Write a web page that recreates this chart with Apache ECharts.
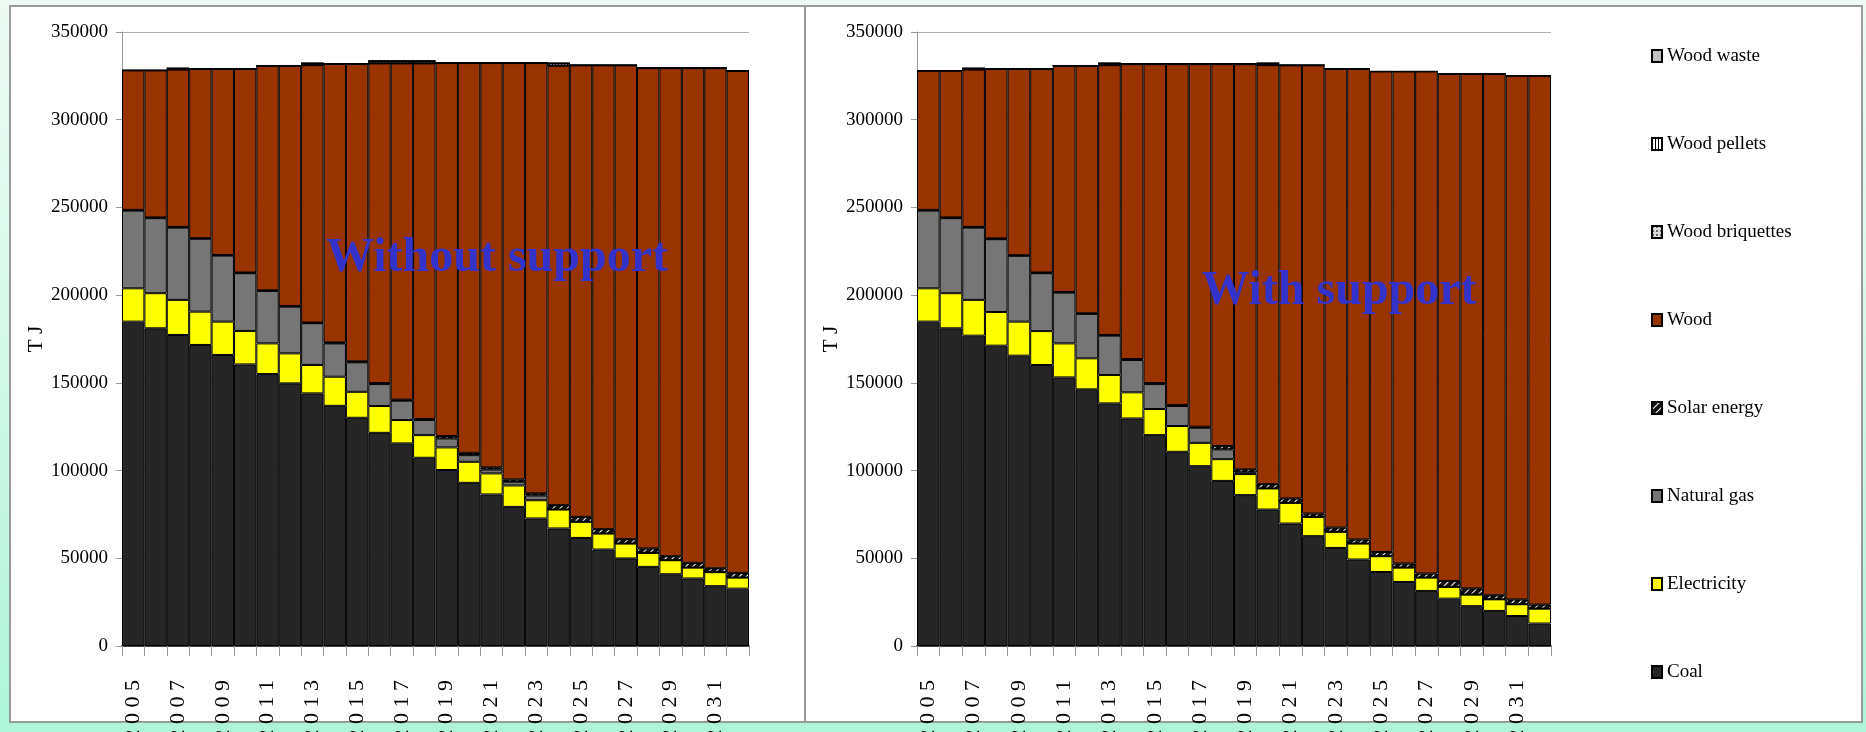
<!DOCTYPE html>
<html><head><meta charset="utf-8">
<script src="https://cdn.jsdelivr.net/npm/echarts@6/dist/echarts.min.js"></script>
<style>
html,body{margin:0;padding:0;}
body{width:1866px;height:732px;position:relative;overflow:hidden;background:linear-gradient(180deg,#eefbf5 0%,#d3f7e9 50%,#acf5d9 100%);}
.panel{position:absolute;background:#fff;border:2px solid #9a9a9a;box-sizing:border-box;}
#chart{position:absolute;left:0;top:0;width:1866px;height:732px;}
</style></head>
<body>
<div class="panel" style="left:9px;top:5px;width:797px;height:718px"></div>
<div class="panel" style="left:804px;top:5px;width:1059px;height:718px"></div>
<div id="chart"></div>
<script>
// ---------- data ----------
const years = ['2005','2006','2007','2008','2009','2010','2011','2012','2013','2014','2015','2016','2017','2018','2019','2020','2021','2022','2023','2024','2025','2026','2027','2028','2029','2030','2031','2032'];

// Without support (left)
const coalWithout      = [184900,181100,177300,171600,165900,160500,155000,149700,144000,136900,130100,121500,115500,107300,100300,93000,86400,79300,72700,67000,61600,55000,49900,45100,40900,38500,34100,32700];
const elecWithout      = [19000,20000,20000,19000,19000,19100,17500,17100,16200,16600,14800,15300,13300,12900,12900,12000,12000,12200,10400,10800,9200,9100,8500,8000,8000,6200,8000,6300];
const gasWithout       = [44300,42800,41200,41500,37600,32900,29900,26600,23800,19000,16800,12500,11000,8600,5100,3800,2200,2100,2700,0,0,0,0,0,0,0,0,0];
const solarWithout     = [400,400,400,400,400,400,400,400,400,600,600,600,600,600,1400,1300,1200,1300,1200,2500,2800,2500,2500,2500,2300,2700,2200,2700];
const woodWithout      = [79500,83800,89700,96500,106100,116100,128000,137000,146700,158800,169600,182200,191700,202700,212600,222200,230500,237400,245300,250500,257400,264400,270100,273800,278200,282000,285100,286200];
const briqWithout      = [0,0,0,0,0,0,0,0,0,0,0,0,0,0,0,0,0,0,0,0,0,0,0,0,0,0,0,0];
const pelletsWithout   = [0,0,800,0,0,0,0,0,1200,0,0,1500,1500,1500,0,0,0,0,0,1500,0,0,0,0,0,0,0,0];
const wasteWithout     = [0,0,0,0,0,0,0,0,0,0,0,0,0,0,0,0,0,0,0,0,0,0,0,0,0,0,0,0];

// With support (right)
const coalWith      = [184900,181100,176900,171200,165500,160200,153100,146300,138300,129700,120200,110700,102500,94100,86000,77800,69800,62600,55900,49300,42200,36500,31400,27000,22700,20000,17100,12800];
const elecWith      = [19000,20000,20400,19200,19400,19300,19400,17700,16200,14900,14900,14700,13300,12400,12000,12000,11800,11000,9200,9100,9000,8200,7600,6700,6600,6600,6700,8500];
const gasWith       = [44300,42800,41200,41500,37500,33000,28900,25300,22400,18400,14200,11400,8600,5600,1000,0,0,0,0,0,0,0,0,0,0,0,0,0];
const solarWith     = [400,400,400,400,400,400,400,400,400,600,600,600,600,1900,1700,2500,2500,1900,2400,2300,2400,2300,2300,3400,3500,2300,2700,2300];
const woodWith      = [79400,83700,89700,96700,106200,116100,129000,141100,153800,168100,181800,194300,206700,217700,231000,238800,246900,255500,261500,268300,273900,280500,286200,289100,293400,297300,298600,301500];
const briqWith      = [0,0,0,0,0,0,0,0,0,0,0,0,0,0,0,0,0,0,0,0,0,0,0,0,0,0,0,0];
const pelletsWith   = [0,0,800,0,0,0,0,0,1200,0,0,0,0,0,0,1200,0,0,0,0,0,0,0,0,0,0,0,0];
const wasteWith     = [0,0,0,0,0,0,0,0,0,0,0,0,0,0,0,0,0,0,0,0,0,0,0,0,0,0,0,0];

const legendOrder = ['Wood waste','Wood pellets','Wood briquettes','Wood','Solar energy','Natural gas','Electricity','Coal'];
const yTitle = 'T J';
const panelTitles = ['Without support','With support'];

// ---------- styles ----------
const FONT = '"Liberation Serif","Times New Roman",serif';
const fuels = [
  {name:'Coal', color:'#262626', L:coalWithout, R:coalWith},
  {name:'Electricity', color:'#ffff00', L:elecWithout, R:elecWith},
  {name:'Natural gas', color:'#767676', L:gasWithout, R:gasWith},
  {name:'Solar energy', color:'#111111', L:solarWithout, R:solarWith,
    decal:{symbol:'rect', color:'#ffffff', dashArrayX:[1,0], dashArrayY:[1,4], rotation:-Math.PI/4, symbolSize:1}},
  {name:'Wood', color:'#993300', L:woodWithout, R:woodWith},
  {name:'Wood briquettes', color:'#dddddd', L:briqWithout, R:briqWith,
    decal:{symbol:'rect', color:'#666666', dashArrayX:2, dashArrayY:2, symbolSize:1}},
  {name:'Wood pellets', color:'#ffffff', L:pelletsWithout, R:pelletsWith,
    decal:{symbol:'rect', color:'#000000', dashArrayX:[1,2], dashArrayY:[1,0], symbolSize:1}},
  {name:'Wood waste', color:'#c0c0c0', L:wasteWithout, R:wasteWith}
];

function xAxisFor(g){
  return {
    type:'category', gridIndex:g, data:years, boundaryGap:true,
    axisLine:{show:true, lineStyle:{color:'#444', width:2}},
    axisTick:{show:true, interval:0, length:10, lineStyle:{color:'#999'}},
    axisLabel:{interval:1, rotate:90, margin:34, fontFamily:FONT, fontSize:22, color:'#000',
      formatter:v => v.split('').join(' ')},
    splitLine:{show:false}
  };
}
function yAxisFor(g, gap){
  return {
    type:'value', gridIndex:g, min:0, max:350000, interval:50000,
    name:yTitle, nameLocation:'middle', nameGap:gap, nameRotate:90,
    nameTextStyle:{fontFamily:FONT, fontSize:21, color:'#000'},
    axisLine:{show:true, lineStyle:{color:'#999'}},
    axisTick:{show:true, length:6, lineStyle:{color:'#999'}},
    axisLabel:{margin:14, fontFamily:FONT, fontSize:19, color:'#000', formatter:v => String(v)},
    splitLine:{show:true, lineStyle:{color:'#b0b0b0'}}
  };
}

const series = [];
[['L',0],['R',1]].forEach(([key, idx]) => {
  fuels.forEach(f => {
    const itemStyle = {color:f.color, borderColor:'#000', borderWidth:1};
    if (f.decal) itemStyle.decal = f.decal;
    series.push({
      name:f.name, type:'bar', stack:key, xAxisIndex:idx, yAxisIndex:idx,
      data:f[key], barCategoryGap:'0%', itemStyle, emphasis:{disabled:true}
    });
  });
});

const chart = echarts.init(document.getElementById('chart'), null, {renderer:'canvas'});
chart.setOption({
  animation:false,
  backgroundColor:'transparent',
  grid:[
    {left:122, top:32, width:627, height:614, containLabel:false, outerBoundsMode:'none'},
    {left:917, top:32, width:634, height:614, containLabel:false, outerBoundsMode:'none'}
  ],
  xAxis:[xAxisFor(0), xAxisFor(1)],
  yAxis:[yAxisFor(0, 62), yAxisFor(1, 64)],
  legend:{
    orient:'vertical', left:1646, top:41, itemWidth:10, itemHeight:12, itemGap:68,
    icon:'rect', selectedMode:false,
    textStyle:{fontFamily:FONT, fontSize:19, color:'#000', lineHeight:20},
    data:legendOrder
  },
  graphic:[
    {type:'text', x:497, y:259, z:100, silent:true,
     style:{text:panelTitles[0], font:'bold 48px ' + FONT, fill:'#3333cc', align:'center', verticalAlign:'middle'}},
    {type:'text', x:1339, y:292, z:100, silent:true,
     style:{text:panelTitles[1], font:'bold 48px ' + FONT, fill:'#3333cc', align:'center', verticalAlign:'middle'}}
  ],
  series
});
</script>
</body></html>
